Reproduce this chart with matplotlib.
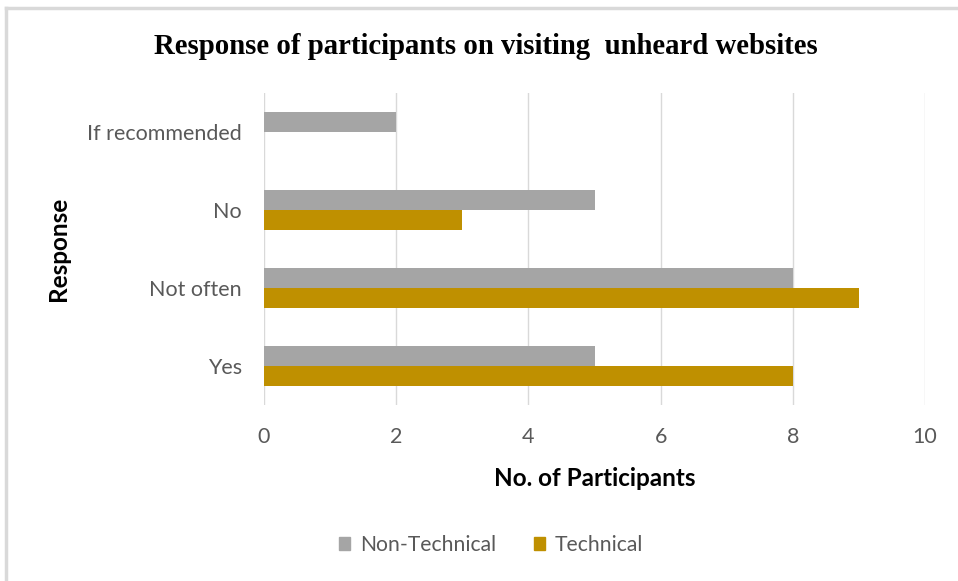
import matplotlib
matplotlib.use("Agg")
import matplotlib.pyplot as plt
import numpy as np
from matplotlib.lines import Line2D

categories = ["Yes", "Not often", "No", "If recommended"]
non_technical = [5, 8, 5, 2]
technical = [8, 9, 3, 0]
series_names = ["Non-Technical", "Technical"]
x_ticks = [0, 2, 4, 6, 8, 10]

gray = "#a5a5a5"
gold = "#bf9000"
text_gray = "#595959"
grid_gray = "#d9d9d9"

plt.rcParams["font.family"] = ["Lato", "DejaVu Sans"]

fig = plt.figure(figsize=(9.58, 5.81), dpi=100)
ax = fig.add_axes([264 / 958, 1 - 405 / 581, (925 - 264) / 958, (405 - 93) / 581])

y = np.arange(len(categories))
h = 0.256
ax.barh(y + h / 2, non_technical, height=h, color=gray, label=series_names[0], zorder=3)
ax.barh(y - h / 2, technical, height=h, color=gold, label=series_names[1], zorder=3)

ax.set_xlim(0, 10)
ax.set_ylim(-0.5, len(categories) - 0.5)
ax.set_xticks(x_ticks)
ax.set_yticks(y)
ax.set_yticklabels(categories)
ax.tick_params(axis="both", length=0, labelsize=15.5, labelcolor=text_gray)
ax.tick_params(axis="x", pad=16)
ax.tick_params(axis="y", pad=16)
ax.grid(axis="x", color=grid_gray, linewidth=1, zorder=0)
for s in ax.spines.values():
    s.set_visible(False)

ax.set_xlabel("No. of Participants", fontsize=17.5, fontweight="bold", color="black", labelpad=14)
ax.set_ylabel("Response", fontsize=17.5, fontweight="bold", color="black", labelpad=12)

fig.text(486 / 958, 1 - 46 / 581, "Response of participants on visiting  unheard websites",
         ha="center", va="center", fontsize=20.7, fontweight="bold",
         family=["Liberation Serif", "DejaVu Serif"])

handles = [plt.Rectangle((0, 0), 1, 1, color=gray), plt.Rectangle((0, 0), 1, 1, color=gold)]
fig.legend(handles, series_names, loc="center", bbox_to_anchor=(491 / 958, 1 - 545 / 581),
           ncol=2, frameon=False, fontsize=15.2, labelcolor=text_gray,
           handlelength=0.55, handleheight=0.55, handletextpad=0.45, columnspacing=1.8)

# chart area border (left and top edges)
fig.add_artist(Line2D([6 / 958, 6 / 958], [0, 1 - 8 / 581], transform=fig.transFigure,
                      color=grid_gray, linewidth=2.5))
fig.add_artist(Line2D([6 / 958, 1], [1 - 8 / 581, 1 - 8 / 581], transform=fig.transFigure,
                      color=grid_gray, linewidth=2.5))

fig.savefig("out.png", dpi=100, facecolor="white")
